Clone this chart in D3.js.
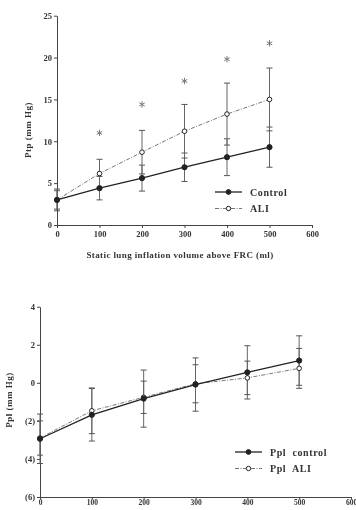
<!DOCTYPE html>
<html lang="en">
<head>
<meta charset="utf-8">
<title>Ptp and Ppl vs inflation volume</title>
<script src="https://cdn.jsdelivr.net/npm/d3@7"></script>
<style>
  body { margin: 0; background: #fff; }
  svg { display: block; filter: grayscale(1); }
  text { font-family: "Liberation Serif", "DejaVu Serif", serif; fill: #333; }
  .tick text { font-size: 8.5px; font-weight: bold; fill: #333; }
  .axis path, .axis line { stroke: #444; stroke-width: 1; }
</style>
</head>
<body>
<svg width="356" height="510"></svg>
<script>
// volumes (ml)
var volumes = [0, 100, 200, 300, 400, 500];

// top panel: Ptp (mm Hg)
var ptpControl   = [3.0, 4.4, 5.6, 6.9, 8.1, 9.3];
var ptpControlSd = [1.3, 1.4, 1.55, 1.7, 2.2, 2.4];
var ptpAli       = [3.0, 6.15, 8.7, 11.2, 13.25, 15.0];
var ptpAliSd     = [1.1, 1.7, 2.6, 3.2, 3.7, 3.75];
var starVolumes  = [100, 200, 300, 400, 500];
var starLevels   = [11.0, 14.4, 17.2, 19.8, 21.7];
var ptpTicks     = [0, 5, 10, 15, 20, 25];

// bottom panel: Ppl (mm Hg)
var pplControl   = [-2.94, -1.68, -0.83, -0.09, 0.55, 1.17];
var pplControlSd = [1.3, 1.38, 1.5, 1.4, 1.4, 1.3];
var pplAli       = [-2.9, -1.47, -0.76, -0.05, 0.26, 0.76];
var pplAliSd     = [0.9, 1.2, 0.85, 1.0, 0.88, 1.05];
var pplTicks     = [4, 2, 0, -2, -4, -6];

var xTicks = [0, 100, 200, 300, 400, 500, 600];

var svg = d3.select('svg');

function fmtNeg(d) { return d < 0 ? '(' + (-d) + ')' : String(d); }

function panel(o) {
  var x = d3.scaleLinear().domain([0, 600]).range(o.xr);
  var y = d3.scaleLinear().domain(o.yd).range(o.yr);
  var g = svg.append('g');

  var xa = g.append('g').attr('class', 'axis')
    .attr('transform', 'translate(0,' + o.yr[0] + ')')
    .call(d3.axisBottom(x).tickValues(xTicks).tickSize(o.xtick || 3).tickSizeOuter(0)
      .tickPadding(o.xpad == null ? 3 : o.xpad));
  if (o.xfont) xa.selectAll('.tick text').style('font-size', o.xfont + 'px');
  g.append('g').attr('class', 'axis')
    .attr('transform', 'translate(' + o.xr[0] + ',0)')
    .call(d3.axisLeft(y).tickValues(o.yticks).tickFormat(o.fmt || d3.format('d'))
      .tickSize(3).tickSizeOuter(0).tickPadding(2));

  // error bars
  o.series.forEach(function(s) {
    volumes.forEach(function(v, i) {
      var lo = y(s.vals[i] - s.sd[i]), hi = y(s.vals[i] + s.sd[i]), cx = x(v);
      g.append('line').attr('x1', cx).attr('x2', cx).attr('y1', lo).attr('y2', hi)
        .attr('stroke', '#666').attr('stroke-width', 1);
      [lo, hi].forEach(function(yy) {
        g.append('line').attr('x1', cx - 3).attr('x2', cx + 3).attr('y1', yy).attr('y2', yy)
          .attr('stroke', '#555').attr('stroke-width', 1);
      });
    });
  });

  var line = d3.line().x(function(d) { return x(d[0]); }).y(function(d) { return y(d[1]); });
  o.series.slice().reverse().forEach(function(s) {
    var pts = volumes.map(function(v, i) { return [v, s.vals[i]]; });
    g.append('path').attr('d', line(pts)).attr('fill', 'none')
      .attr('stroke', s.open ? '#777' : '#222').attr('stroke-width', s.open ? 1 : 1.3)
      .attr('stroke-dasharray', s.open ? '4,1.5,1,1.5' : null);
    g.selectAll(null).data(pts).enter().append('circle')
      .attr('cx', function(d) { return x(d[0]); })
      .attr('cy', function(d) { return y(d[1]); })
      .attr('r', s.open ? 2.3 : 2.6)
      .attr('fill', s.open ? '#fff' : '#222')
      .attr('stroke', '#222').attr('stroke-width', 1);
  });

  // legend
  o.series.forEach(function(s, i) {
    var ly = o.legend[1] + i * 16.5, lx = o.legend[0];
    g.append('line').attr('x1', lx).attr('x2', lx + 27).attr('y1', ly).attr('y2', ly)
      .attr('stroke', s.open ? '#777' : '#222').attr('stroke-width', s.open ? 1 : 1.3)
      .attr('stroke-dasharray', s.open ? '4,1.5,1,1.5' : null);
    g.append('circle').attr('cx', lx + 13.5).attr('cy', ly).attr('r', s.open ? 2.2 : 2.4)
      .attr('fill', s.open ? '#fff' : '#222').attr('stroke', '#222');
    g.append('text').attr('x', lx + 35).attr('y', ly + 3.5)
      .attr('font-size', 10).attr('font-weight', 'bold').attr('letter-spacing', 0.6)
      .attr('xml:space', 'preserve')
      .text(s.name);
  });

  // y title
  g.append('text')
    .attr('transform', 'translate(' + o.ytitle[0] + ',' + o.ytitle[1] + ') rotate(-90)')
    .attr('text-anchor', 'middle').attr('font-size', 9).attr('font-weight', 'bold')
    .attr('letter-spacing', 0.5)
    .text(o.ylabel);

  return { x: x, y: y, g: g };
}

var ptpPanel = panel({
  xr: [57, 312], yd: [0, 25], yr: [225, 15.7], yticks: ptpTicks,
  series: [
    { name: 'Control', vals: ptpControl, sd: ptpControlSd, open: false },
    { name: 'ALI', vals: ptpAli, sd: ptpAliSd, open: true }
  ],
  legend: [215, 192], ytitle: [31, 130], ylabel: 'Ptp (mm Hg)'
});

// significance markers
var star = d3.symbol().type(d3.symbolAsterisk).size(28);
ptpPanel.g.selectAll(null).data(starVolumes).enter().append('path')
  .attr('d', star)
  .attr('transform', function(d, i) {
    return 'translate(' + ptpPanel.x(d) + ',' + ptpPanel.y(starLevels[i]) + ')';
  })
  .attr('fill', 'none').attr('stroke', '#777').attr('stroke-width', 1);

ptpPanel.g.append('text').attr('x', 180).attr('y', 258).attr('text-anchor', 'middle')
  .attr('font-size', 9).attr('font-weight', 'bold').attr('letter-spacing', 0.4)
  .text('Static lung inflation volume above FRC (ml)');

panel({
  xr: [40, 351], yd: [-6, 4], yr: [497, 306.7], yticks: pplTicks, fmt: fmtNeg,
  xtick: 2, xpad: 1, xfont: 7.5,
  series: [
    { name: 'Ppl  control', vals: pplControl, sd: pplControlSd, open: false },
    { name: 'Ppl  ALI', vals: pplAli, sd: pplAliSd, open: true }
  ],
  legend: [235, 452], ytitle: [12, 400], ylabel: 'Ppl (mm Hg)'
});
</script>
</body>
</html>
